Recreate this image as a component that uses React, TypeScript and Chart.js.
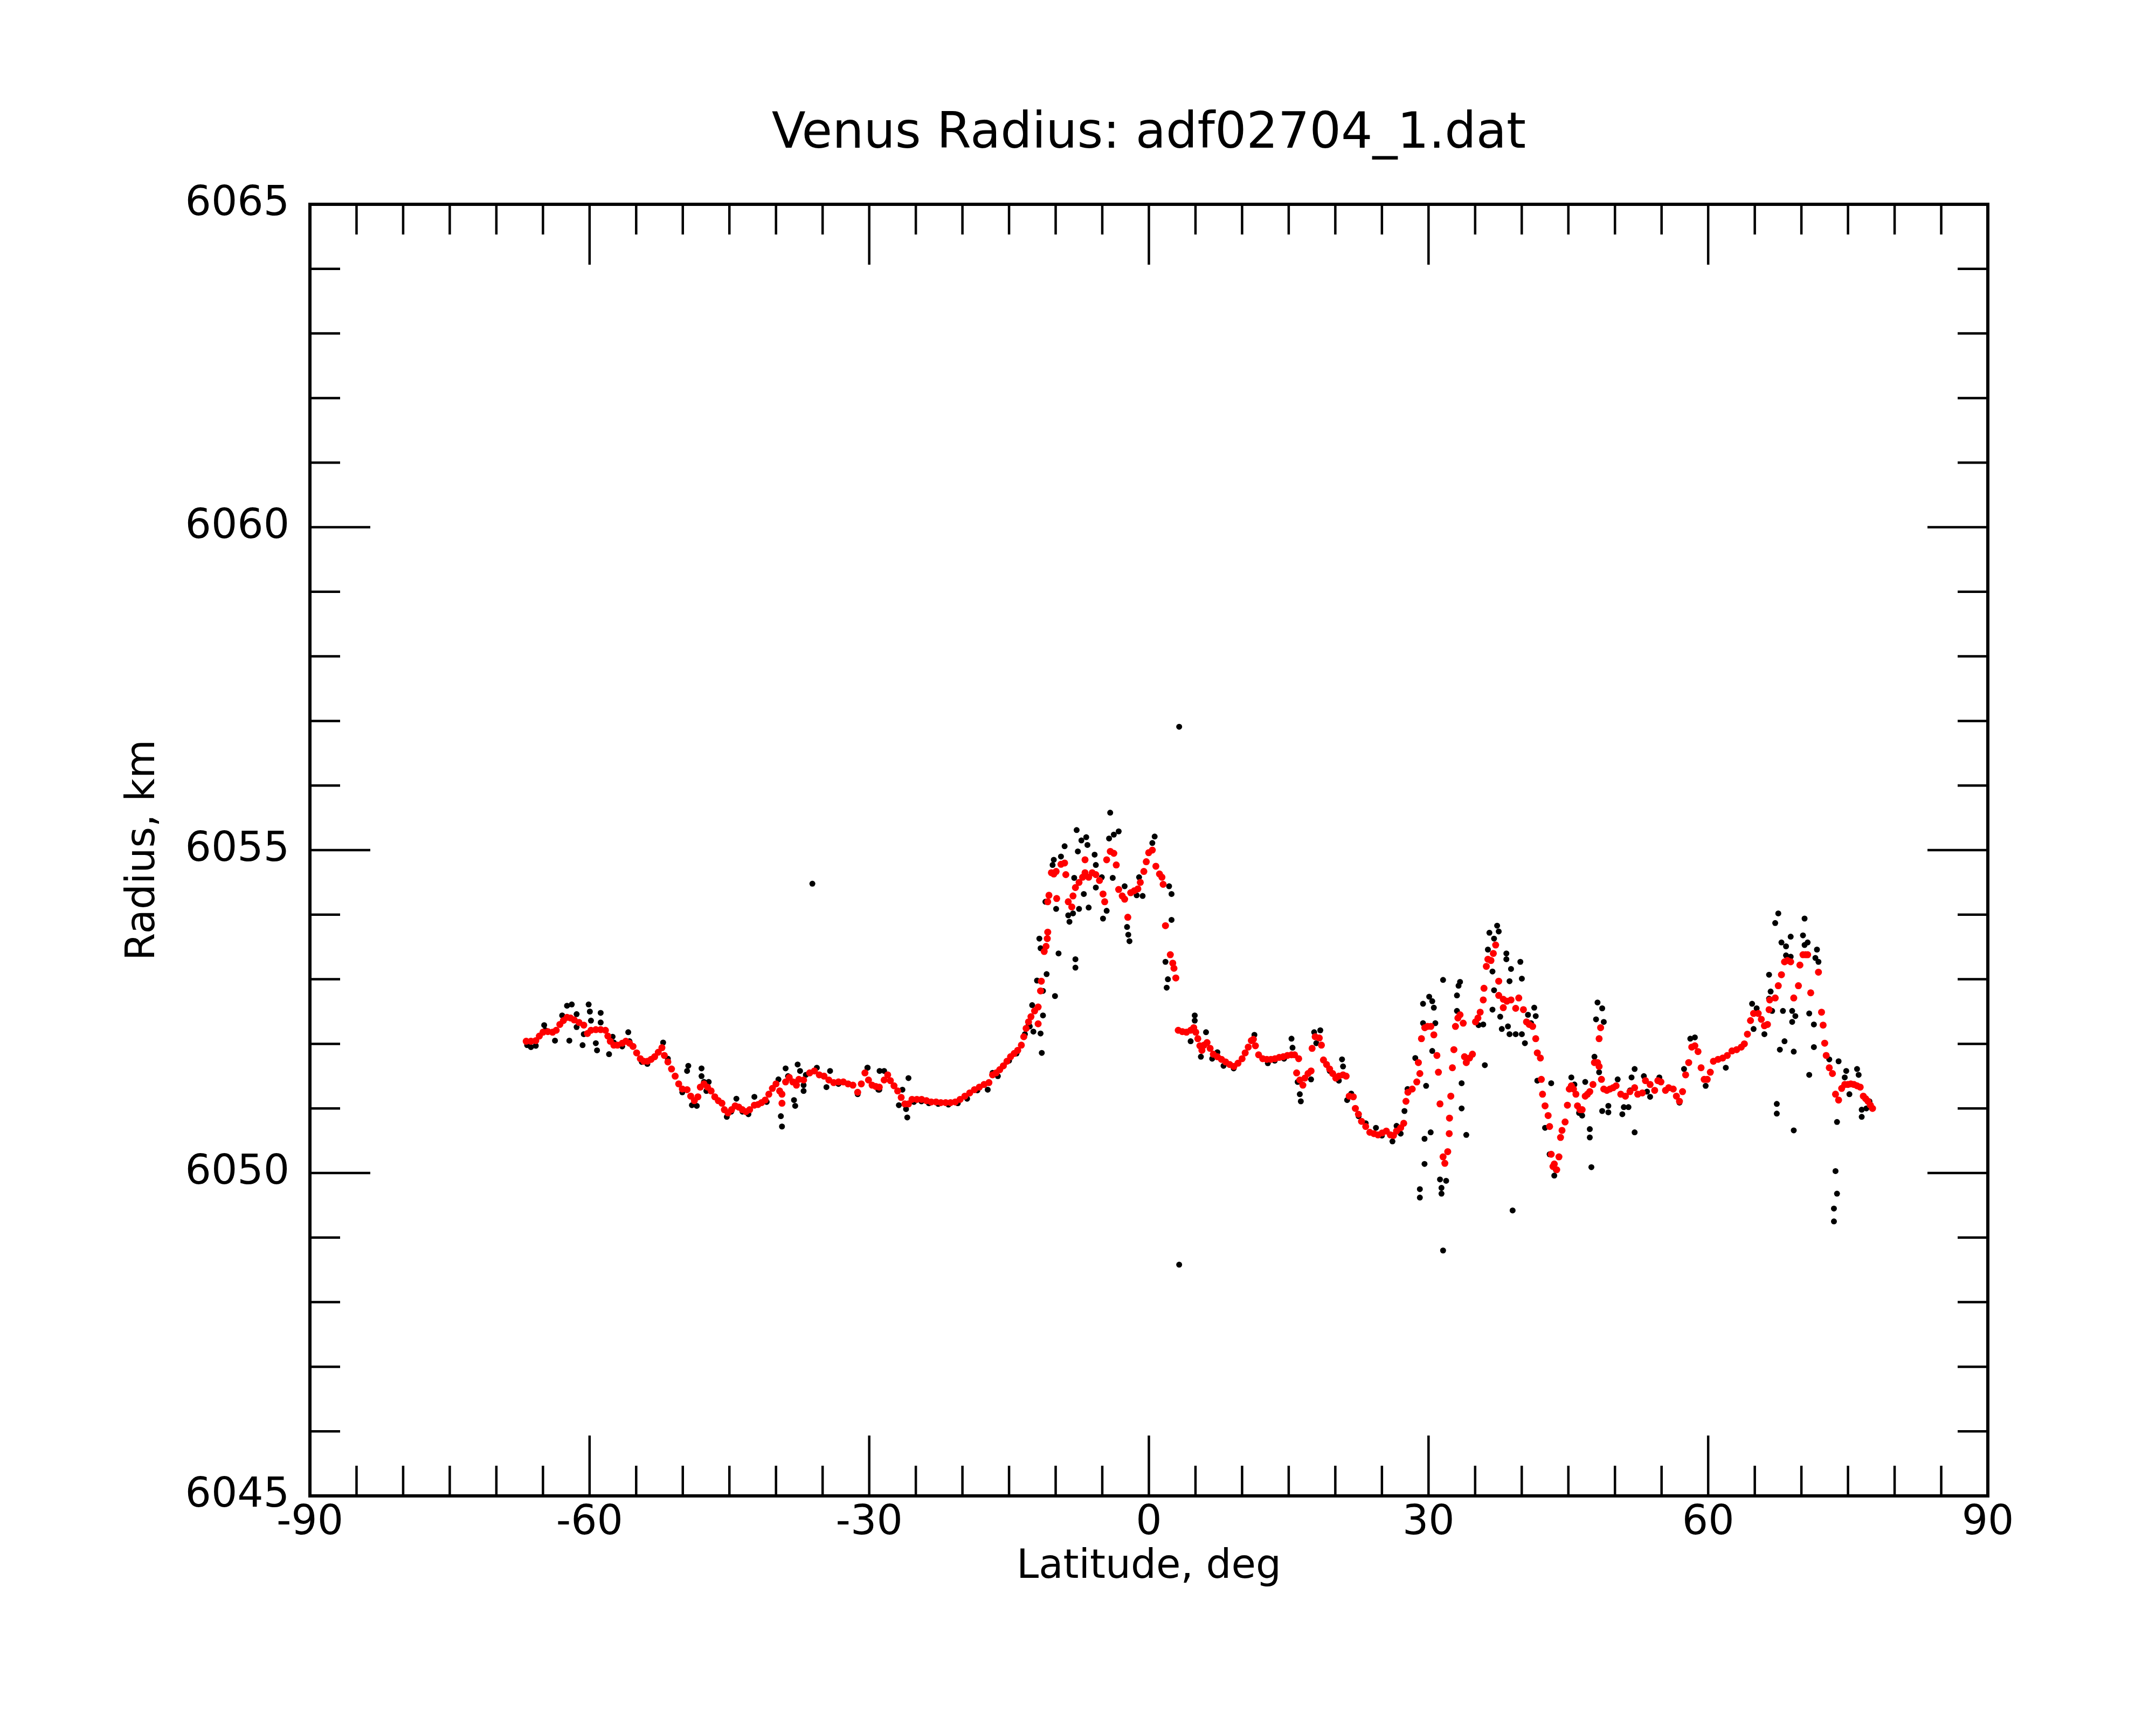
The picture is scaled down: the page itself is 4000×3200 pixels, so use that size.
import { useEffect, useRef } from 'react';
import { Chart, registerables, type ChartConfiguration, type Plugin } from 'chart.js';

Chart.register(...registerables);

const FONT = 'DejaVu Sans';

const xTicks = [-90, -60, -30, 0, 30, 60, 90];
const yTicks = [6045, 6050, 6055, 6060, 6065];
const xMinorStep = 5;
const yMinorStep = 1;

// smoothed radius (red), [latitude, radius km]
const smoothed: [number, number][] = [
  [-66.8, 6052.04], [-66.29, 6052.04], [-65.77, 6052.05], [-65.39, 6052.12], [-65.0, 6052.18],
  [-64.48, 6052.19], [-63.97, 6052.18], [-63.58, 6052.21], [-63.19, 6052.3], [-62.81, 6052.36],
  [-62.42, 6052.41], [-62.04, 6052.4], [-61.65, 6052.37], [-61.13, 6052.33], [-60.62, 6052.29],
  [-60.23, 6052.16], [-59.85, 6052.21], [-59.33, 6052.22], [-58.81, 6052.22], [-58.3, 6052.21],
  [-58.04, 6052.12], [-57.78, 6052.04], [-57.4, 6051.98], [-57.01, 6051.98], [-56.49, 6052.01],
  [-56.11, 6052.04], [-55.72, 6052.01], [-55.34, 6051.96], [-54.95, 6051.86], [-54.56, 6051.77],
  [-54.18, 6051.73], [-53.79, 6051.73], [-53.4, 6051.76], [-53.02, 6051.8], [-52.63, 6051.87],
  [-52.24, 6051.94], [-51.98, 6051.82], [-51.6, 6051.72], [-51.21, 6051.61], [-50.82, 6051.5],
  [-50.44, 6051.38], [-50.05, 6051.3], [-49.54, 6051.29], [-49.15, 6051.19], [-48.76, 6051.12],
  [-48.38, 6051.18], [-48.12, 6051.33], [-47.73, 6051.38], [-47.35, 6051.33], [-46.96, 6051.27],
  [-46.57, 6051.18], [-46.19, 6051.12], [-45.8, 6051.08], [-45.54, 6050.98], [-45.15, 6050.93],
  [-44.77, 6050.98], [-44.38, 6051.04], [-43.99, 6051.02], [-43.61, 6050.98], [-43.22, 6050.95],
  [-42.83, 6050.98], [-42.32, 6051.05], [-41.93, 6051.06], [-41.55, 6051.09], [-41.16, 6051.13],
  [-40.77, 6051.22], [-40.39, 6051.31], [-40.0, 6051.38], [-39.61, 6051.27], [-39.36, 6051.22],
  [-39.36, 6051.08], [-38.97, 6051.41], [-38.58, 6051.48], [-38.2, 6051.41], [-37.81, 6051.36],
  [-37.55, 6051.45], [-37.04, 6051.44], [-36.39, 6051.55], [-35.88, 6051.58], [-35.36, 6051.52],
  [-34.85, 6051.5], [-34.33, 6051.44], [-33.81, 6051.4], [-33.3, 6051.41], [-32.78, 6051.41],
  [-32.27, 6051.38], [-31.75, 6051.36], [-31.24, 6051.25], [-30.85, 6051.38], [-30.46, 6051.55],
  [-30.08, 6051.44], [-29.69, 6051.36], [-29.3, 6051.34], [-28.92, 6051.33], [-28.4, 6051.44],
  [-28.02, 6051.52], [-27.73, 6051.43], [-27.34, 6051.35], [-26.95, 6051.27], [-26.57, 6051.17],
  [-26.18, 6051.07], [-25.79, 6051.07], [-25.41, 6051.14], [-24.89, 6051.14], [-24.38, 6051.14],
  [-23.86, 6051.12], [-23.35, 6051.1], [-22.83, 6051.1], [-22.32, 6051.09], [-21.8, 6051.09],
  [-21.28, 6051.09], [-20.77, 6051.1], [-20.25, 6051.14], [-19.74, 6051.19], [-19.22, 6051.24],
  [-18.71, 6051.29], [-18.19, 6051.33], [-17.68, 6051.37], [-17.16, 6051.4], [-16.77, 6051.52],
  [-16.39, 6051.55], [-16.0, 6051.6], [-15.61, 6051.66], [-15.23, 6051.73], [-14.84, 6051.8],
  [-14.45, 6051.85], [-14.07, 6051.9], [-13.68, 6051.98], [-13.42, 6052.11], [-13.17, 6052.24],
  [-12.91, 6052.34], [-12.65, 6052.42], [-12.26, 6052.51], [-11.88, 6052.57], [-11.88, 6052.31],
  [-11.62, 6052.82], [-11.54, 6052.97], [-11.23, 6053.43], [-11.03, 6053.51], [-10.9, 6053.63],
  [-10.85, 6053.73], [-10.85, 6054.2], [-10.72, 6054.3], [-10.46, 6054.65], [-10.2, 6054.63],
  [-9.95, 6054.67], [-9.89, 6054.25], [-9.43, 6054.78], [-9.04, 6054.8], [-8.91, 6054.62],
  [-8.65, 6054.2], [-8.27, 6054.12], [-8.14, 6054.29], [-7.88, 6054.42], [-7.49, 6054.5],
  [-7.11, 6054.58], [-6.85, 6054.85], [-6.85, 6054.65], [-6.46, 6054.58], [-6.08, 6054.65],
  [-5.69, 6054.62], [-5.3, 6054.53], [-4.92, 6054.32], [-4.74, 6054.2], [-4.53, 6054.85],
  [-4.14, 6054.98], [-3.76, 6054.95], [-3.5, 6054.77], [-3.24, 6054.39], [-2.86, 6054.29],
  [-2.6, 6054.24], [-2.26, 6053.96], [-1.95, 6054.34], [-1.57, 6054.37], [-1.18, 6054.4],
  [-0.92, 6054.5], [-0.54, 6054.67], [-0.28, 6054.82], [-0.02, 6054.96], [0.37, 6055.0],
  [0.75, 6054.75], [1.14, 6054.63], [1.4, 6054.58], [1.53, 6054.47], [1.78, 6053.83],
  [2.3, 6053.38], [2.56, 6053.25], [2.69, 6053.17], [2.89, 6053.02], [3.15, 6052.21],
  [3.59, 6052.19], [4.03, 6052.18], [4.48, 6052.21], [4.81, 6052.25], [5.03, 6052.18],
  [5.25, 6052.08], [5.47, 6051.97], [5.69, 6051.9], [5.91, 6051.98], [6.24, 6052.02],
  [6.57, 6051.93], [6.91, 6051.84], [7.35, 6051.8], [7.79, 6051.76], [8.23, 6051.72],
  [8.67, 6051.68], [9.12, 6051.65], [9.56, 6051.7], [10.0, 6051.77], [10.33, 6051.86],
  [10.66, 6051.95], [10.99, 6052.05], [11.21, 6052.07], [11.43, 6051.97], [11.77, 6051.83],
  [12.21, 6051.77], [12.65, 6051.76], [13.09, 6051.76], [13.53, 6051.77], [13.98, 6051.79],
  [14.42, 6051.8], [14.86, 6051.82], [15.3, 6051.83], [15.63, 6051.83], [15.85, 6051.55],
  [16.07, 6051.77], [16.19, 6051.44], [16.52, 6051.36], [16.74, 6051.47], [17.07, 6051.54],
  [17.4, 6051.58], [17.51, 6051.93], [17.84, 6052.11], [18.28, 6052.09], [18.51, 6051.98],
  [18.73, 6051.75], [19.06, 6051.68], [19.39, 6051.61], [19.72, 6051.54], [20.05, 6051.47],
  [20.38, 6051.5], [20.83, 6051.52], [21.16, 6051.5], [21.49, 6051.19], [21.93, 6051.18],
  [22.15, 6051.0], [22.48, 6050.91], [22.81, 6050.8], [23.26, 6050.72], [23.7, 6050.63],
  [24.14, 6050.61], [24.58, 6050.59], [25.02, 6050.62], [25.47, 6050.65], [25.91, 6050.59],
  [26.24, 6050.58], [26.57, 6050.65], [27.01, 6050.7], [27.34, 6050.77], [27.58, 6051.11],
  [27.79, 6051.25], [28.25, 6051.3], [28.74, 6051.41], [28.91, 6051.71], [29.07, 6051.54],
  [29.24, 6052.08], [29.6, 6052.25], [29.9, 6052.27], [30.25, 6052.27], [30.57, 6052.14],
  [30.9, 6051.82], [31.06, 6051.56], [31.23, 6051.07], [31.56, 6050.25], [31.75, 6050.15],
  [32.06, 6050.33], [32.22, 6050.61], [32.25, 6050.85], [32.39, 6051.19], [32.56, 6051.63],
  [32.72, 6051.91], [32.89, 6052.27], [33.15, 6052.4], [33.38, 6052.45], [33.72, 6052.32],
  [33.86, 6051.8], [34.05, 6051.71], [34.4, 6051.78], [34.71, 6051.84], [35.04, 6052.34],
  [35.3, 6052.4], [35.54, 6052.49], [35.87, 6052.68], [35.95, 6052.86], [36.2, 6053.2],
  [36.37, 6053.31], [36.7, 6053.29], [36.95, 6053.4], [37.2, 6053.53], [37.53, 6052.97],
  [37.53, 6052.75], [38.02, 6052.56], [38.02, 6052.69], [38.4, 6052.66], [38.85, 6052.68],
  [39.35, 6052.55], [39.68, 6052.71], [40.18, 6052.53], [40.51, 6052.34], [40.8, 6052.3],
  [41.17, 6052.27], [41.5, 6052.08], [41.67, 6051.86], [42.0, 6051.78], [42.1, 6051.45],
  [42.23, 6051.22], [42.5, 6051.04], [42.83, 6050.89], [42.99, 6050.72], [43.16, 6050.29],
  [43.35, 6050.1], [43.49, 6050.14], [43.75, 6050.05], [43.99, 6050.25], [44.16, 6050.55],
  [44.32, 6050.66], [44.65, 6050.79], [44.9, 6051.05], [45.1, 6051.3], [45.32, 6051.35],
  [45.55, 6051.3], [45.81, 6051.22], [45.98, 6051.04], [46.25, 6050.98], [46.48, 6050.98],
  [46.81, 6051.19], [47.05, 6051.22], [47.3, 6051.26], [47.64, 6051.37], [47.8, 6051.71],
  [48.13, 6051.71], [48.3, 6052.08], [48.46, 6052.25], [48.3, 6051.65], [48.55, 6051.45],
  [48.8, 6051.3], [49.13, 6051.28], [49.46, 6051.3], [49.8, 6051.32], [50.12, 6051.35],
  [50.62, 6051.22], [51.12, 6051.19], [51.61, 6051.26], [52.11, 6051.32], [52.44, 6051.22],
  [52.94, 6051.24], [53.27, 6051.43], [53.77, 6051.37], [54.26, 6051.28], [54.6, 6051.43],
  [54.93, 6051.41], [55.42, 6051.28], [55.76, 6051.32], [56.25, 6051.3], [56.59, 6051.19],
  [56.92, 6051.11], [57.25, 6051.26], [57.58, 6051.52], [57.91, 6051.71], [58.24, 6051.95],
  [58.57, 6051.97], [58.91, 6051.88], [59.24, 6051.63], [59.57, 6051.45], [59.9, 6051.45],
  [60.23, 6051.56], [60.56, 6051.73], [61.06, 6051.76], [61.56, 6051.78], [62.05, 6051.82],
  [62.55, 6051.89], [63.05, 6051.91], [63.55, 6051.95], [63.88, 6052.0], [64.21, 6052.15],
  [64.54, 6052.36], [64.87, 6052.47], [65.37, 6052.47], [65.7, 6052.38], [66.03, 6052.28],
  [66.36, 6052.3], [66.53, 6052.53], [66.6, 6052.68], [67.19, 6052.71], [67.52, 6052.9],
  [67.86, 6053.07], [68.19, 6053.27], [68.5, 6053.29], [68.85, 6053.27], [69.18, 6052.71],
  [69.68, 6052.9], [69.84, 6053.22], [70.17, 6053.38], [70.45, 6053.38], [70.67, 6053.38],
  [71.0, 6052.79], [71.83, 6053.11], [72.16, 6052.49], [72.33, 6052.29], [72.5, 6052.01],
  [72.66, 6051.82], [72.99, 6051.63], [73.33, 6051.54], [73.66, 6051.22], [73.99, 6051.13],
  [74.32, 6051.31], [74.65, 6051.37], [74.98, 6051.37], [75.3, 6051.38], [75.64, 6051.37],
  [75.97, 6051.35], [76.31, 6051.33], [76.64, 6051.19], [76.9, 6051.15], [77.14, 6051.11],
  [77.4, 6051.05], [77.63, 6051.0],
];

// raw radius (black), [latitude, radius km]
const raw: [number, number][] = [
  [-66.7, 6051.98], [-66.29, 6051.95], [-65.77, 6051.97], [-64.87, 6052.29], [-64.74, 6052.21],
  [-63.71, 6052.05], [-62.94, 6052.44], [-62.42, 6052.59], [-61.91, 6052.61], [-62.17, 6052.05],
  [-61.39, 6052.46], [-61.39, 6052.26], [-60.62, 6052.15], [-60.75, 6051.98], [-60.1, 6052.61],
  [-59.97, 6052.5], [-59.85, 6052.36], [-59.33, 6052.01], [-59.2, 6051.9], [-58.81, 6052.48],
  [-58.81, 6052.33], [-57.91, 6051.84], [-57.53, 6052.11], [-57.4, 6052.02], [-56.5, 6051.96],
  [-55.85, 6052.18], [-55.72, 6052.04], [-54.4, 6051.72], [-53.8, 6051.69], [-52.11, 6052.02],
  [-51.6, 6051.77], [-49.41, 6051.66], [-49.54, 6051.58], [-47.99, 6051.62], [-47.99, 6051.5],
  [-47.73, 6051.41], [-47.22, 6051.41], [-50.05, 6051.25], [-49.02, 6051.05], [-48.5, 6051.04],
  [-47.47, 6051.27], [-45.28, 6050.87], [-44.8, 6050.95], [-44.25, 6051.15], [-43.6, 6050.95],
  [-42.96, 6050.91], [-42.32, 6051.18], [-41.0, 6051.1], [-39.74, 6051.45], [-39.48, 6050.88],
  [-39.36, 6050.72], [-38.97, 6051.62], [-38.71, 6051.5], [-38.07, 6051.41], [-38.07, 6051.13],
  [-37.94, 6051.04], [-37.68, 6051.68], [-37.42, 6051.58], [-37.04, 6051.36], [-37.04, 6051.27],
  [-36.8, 6051.52], [-36.1, 6054.48], [-35.62, 6051.63], [-34.59, 6051.33], [-34.2, 6051.58],
  [-33.3, 6051.38], [-32.78, 6051.41], [-31.24, 6051.22], [-30.2, 6051.63], [-30.17, 6051.63],
  [-29.02, 6051.29], [-28.92, 6051.29], [-28.89, 6051.58], [-28.4, 6051.58], [-26.82, 6051.05],
  [-26.44, 6051.29], [-26.05, 6050.99], [-25.92, 6050.86], [-25.79, 6051.47], [-25.2, 6051.1],
  [-24.4, 6051.11], [-23.6, 6051.08], [-22.6, 6051.07], [-21.5, 6051.06], [-20.5, 6051.08],
  [-19.5, 6051.15], [-18.4, 6051.28], [-17.29, 6051.29], [-16.77, 6051.55], [-16.2, 6051.5],
  [-15.0, 6051.74], [-14.2, 6051.85], [-13.3, 6052.15], [-12.9, 6052.3], [-12.78, 6052.27],
  [-12.52, 6052.6], [-12.39, 6052.19], [-12.0, 6052.98], [-11.75, 6053.63], [-11.62, 6053.48],
  [-11.62, 6052.16], [-11.49, 6051.86], [-11.36, 6052.44], [-11.36, 6052.82], [-11.1, 6054.2],
  [-10.97, 6053.08], [-10.33, 6054.77], [-10.2, 6054.85], [-10.07, 6052.74], [-9.95, 6054.09],
  [-9.69, 6053.4], [-9.43, 6054.9], [-9.04, 6055.06], [-8.65, 6053.99], [-8.52, 6053.89],
  [-8.14, 6054.02], [-8.01, 6054.57], [-7.88, 6053.31], [-7.88, 6053.18], [-7.75, 6055.31],
  [-7.62, 6054.98], [-7.49, 6054.09], [-7.24, 6055.15], [-6.98, 6054.32], [-6.72, 6055.2],
  [-6.59, 6055.08], [-6.46, 6054.11], [-5.82, 6054.93], [-5.69, 6054.77], [-5.69, 6054.42],
  [-5.05, 6054.58], [-4.92, 6053.94], [-4.53, 6054.06], [-4.27, 6055.18], [-4.15, 6055.58],
  [-3.88, 6054.57], [-3.76, 6055.24], [-3.24, 6055.29], [-2.6, 6054.44], [-2.34, 6053.81],
  [-2.21, 6053.69], [-2.08, 6053.59], [-1.31, 6054.3], [-1.05, 6054.58], [-0.67, 6054.29],
  [0.37, 6055.11], [0.62, 6055.21], [1.78, 6053.27], [1.91, 6052.87], [2.04, 6053.0],
  [2.17, 6054.44], [2.43, 6054.32], [2.43, 6053.92], [3.25, 6056.91], [3.25, 6048.58],
  [4.48, 6052.04], [4.92, 6052.44], [4.92, 6052.36], [5.58, 6051.8], [6.13, 6052.18],
  [6.79, 6051.77], [7.35, 6051.87], [8.01, 6051.66], [9.1, 6051.62], [11.32, 6052.14],
  [12.76, 6051.7], [13.5, 6051.74], [14.5, 6051.77], [15.3, 6052.08], [15.41, 6051.94],
  [15.96, 6051.41], [16.19, 6051.22], [16.3, 6051.11], [17.4, 6051.45], [17.73, 6052.18],
  [17.96, 6052.01], [18.39, 6052.21], [19.4, 6051.58], [20.38, 6051.43], [20.72, 6051.76],
  [20.83, 6051.65], [21.27, 6051.13], [21.71, 6051.23], [22.5, 6050.88], [23.26, 6050.77],
  [24.36, 6050.7], [25.0, 6050.58], [26.13, 6050.49], [26.57, 6050.73], [27.01, 6050.61],
  [27.42, 6050.96], [27.75, 6051.3], [28.58, 6051.78], [29.07, 6049.75], [29.07, 6049.62],
  [29.41, 6052.32], [29.41, 6052.62], [29.57, 6050.53], [29.57, 6050.14], [29.74, 6051.35],
  [30.07, 6052.73], [30.23, 6050.63], [30.4, 6052.66], [30.57, 6052.56], [30.73, 6052.32],
  [30.4, 6051.89], [31.23, 6049.9], [31.39, 6049.77], [31.39, 6049.68], [31.56, 6048.8],
  [31.89, 6049.88], [31.56, 6052.99], [33.05, 6052.51], [33.22, 6052.9], [33.38, 6052.96],
  [33.05, 6052.75], [33.55, 6051.39], [33.55, 6051.0], [34.05, 6050.59], [35.37, 6052.29],
  [35.87, 6052.3], [36.04, 6051.67], [36.37, 6053.46], [36.53, 6053.72], [37.03, 6053.63],
  [37.36, 6053.83], [37.53, 6053.74], [36.86, 6053.12], [37.03, 6052.83], [36.86, 6052.53],
  [37.69, 6052.42], [37.86, 6052.23], [38.35, 6053.4], [38.35, 6053.31], [38.85, 6053.16],
  [38.69, 6052.97], [38.52, 6052.27], [38.69, 6052.15], [39.35, 6052.15], [40.01, 6053.01],
  [39.85, 6053.27], [40.01, 6052.15], [40.34, 6052.01], [40.67, 6052.45], [41.0, 6052.32],
  [41.34, 6052.56], [41.5, 6052.43], [41.67, 6051.43], [39.02, 6049.42], [42.5, 6050.7],
  [42.99, 6050.29], [43.16, 6051.39], [43.49, 6049.96], [43.66, 6050.05], [45.32, 6051.48],
  [45.65, 6051.37], [46.15, 6050.93], [46.48, 6050.89], [46.81, 6051.41], [47.3, 6050.68],
  [47.3, 6050.55], [47.47, 6050.09], [47.8, 6051.8], [47.97, 6052.38], [48.13, 6052.64],
  [48.63, 6052.55], [48.8, 6052.34], [48.3, 6051.56], [48.63, 6050.96], [49.29, 6051.04],
  [49.29, 6050.94], [50.29, 6051.45], [50.79, 6050.91], [50.95, 6051.02], [51.45, 6051.02],
  [51.62, 6051.28], [52.11, 6051.61], [52.11, 6050.63], [51.78, 6051.48], [53.1, 6051.5],
  [53.44, 6051.26], [53.77, 6051.18], [54.76, 6051.48], [56.92, 6051.09], [57.41, 6051.61],
  [58.08, 6052.08], [58.57, 6052.1], [59.73, 6051.35], [61.89, 6051.63], [64.71, 6052.62],
  [65.2, 6052.55], [64.87, 6052.23], [66.03, 6052.15], [66.53, 6053.07], [66.7, 6052.81],
  [66.53, 6052.7], [66.86, 6052.51], [67.19, 6053.87], [67.52, 6054.02], [67.86, 6053.57],
  [68.35, 6053.51], [68.85, 6053.66], [68.35, 6053.37], [68.85, 6053.35], [68.02, 6052.51],
  [68.19, 6052.04], [67.69, 6051.91], [69.01, 6052.34], [69.35, 6052.43], [69.18, 6051.88],
  [69.01, 6052.51], [67.36, 6051.07], [67.36, 6050.92], [69.18, 6050.66], [70.17, 6053.68],
  [70.34, 6053.94], [70.34, 6053.53], [70.67, 6053.57], [71.5, 6053.33], [71.67, 6053.46],
  [71.83, 6053.27], [71.34, 6052.3], [70.84, 6052.47], [71.34, 6051.95], [70.84, 6051.52],
  [72.99, 6051.76], [73.99, 6051.73], [74.65, 6051.48], [74.81, 6051.58], [75.97, 6051.61],
  [76.14, 6051.52], [75.15, 6051.22], [73.82, 6050.79], [73.66, 6050.03], [73.82, 6049.68],
  [73.49, 6049.45], [73.49, 6049.25], [76.47, 6050.98], [76.47, 6050.87], [76.97, 6051.0],
  [77.3, 6051.11],
];

const MAJOR_TICK = 112;
const MINOR_TICK = 56;

const framePlugin: Plugin<'scatter'> = {
  id: 'frame',
  afterDatasetsDraw(chart) {
    const { ctx, chartArea: a } = chart;
    const xs = chart.scales.x;
    const ys = chart.scales.y;
    ctx.save();
    ctx.strokeStyle = '#000';
    ctx.lineWidth = 6;
    ctx.strokeRect(a.left, a.top, a.right - a.left, a.bottom - a.top);
    ctx.lineWidth = 4.5;
    ctx.beginPath();
    for (let v = xTicks[0] + xMinorStep; v < xTicks[xTicks.length - 1]; v += xMinorStep) {
      const px = xs.getPixelForValue(v);
      const len = xTicks.includes(v) ? MAJOR_TICK : MINOR_TICK;
      ctx.moveTo(px, a.bottom);
      ctx.lineTo(px, a.bottom - len);
      ctx.moveTo(px, a.top);
      ctx.lineTo(px, a.top + len);
    }
    for (let v = yTicks[0] + yMinorStep; v < yTicks[yTicks.length - 1]; v += yMinorStep) {
      const py = ys.getPixelForValue(v);
      const len = yTicks.includes(v) ? MAJOR_TICK : MINOR_TICK;
      ctx.moveTo(a.left, py);
      ctx.lineTo(a.left + len, py);
      ctx.moveTo(a.right, py);
      ctx.lineTo(a.right - len, py);
    }
    ctx.stroke();
    ctx.restore();
  },
};

function App() {
  const canvasRef = useRef<HTMLCanvasElement | null>(null);

  useEffect(() => {
    if (!canvasRef.current) return;
    Chart.defaults.font.family = FONT;
    Chart.defaults.color = '#000';

    const config: ChartConfiguration<'scatter'> = {
      type: 'scatter',
      data: {
        datasets: [
          {
            label: 'smoothed',
            data: smoothed.map(([x, y]) => ({ x, y })),
            backgroundColor: '#ff0000',
            pointRadius: 6.5,
            pointBorderWidth: 0,
            pointHoverRadius: 6.5,
          },
          {
            label: 'raw',
            data: raw.map(([x, y]) => ({ x, y })),
            backgroundColor: '#000000',
            pointRadius: 5.5,
            pointBorderWidth: 0,
            pointHoverRadius: 5.5,
          },
        ],
      },
      options: {
        responsive: false,
        devicePixelRatio: 1,
        animation: false,
        events: [],
        layout: { padding: { left: 0, right: 312, top: 0, bottom: 0 } },
        scales: {
          x: {
            type: 'linear',
            min: xTicks[0],
            max: xTicks[xTicks.length - 1],
            afterBuildTicks: (scale) => {
              scale.ticks = xTicks.map((value) => ({ value }));
            },
            afterFit: (scale) => {
              scale.height = 425;
              scale.paddingLeft = 0;
              scale.paddingRight = 0;
            },
            ticks: {
              font: { size: 76 },
              padding: 6,
              maxRotation: 0,
              autoSkip: false,
              callback: (value) => String(value),
            },
            grid: { display: false, drawTicks: false },
            border: { display: false },
            title: {
              display: true,
              text: 'Latitude, deg',
              font: { size: 74 },
              padding: { top: 0, bottom: 248 },
            },
          },
          y: {
            type: 'linear',
            min: yTicks[0],
            max: yTicks[yTicks.length - 1],
            afterBuildTicks: (scale) => {
              scale.ticks = yTicks.map((value) => ({ value }));
            },
            afterFit: (scale) => {
              scale.width = 575;
              scale.paddingTop = 0;
              scale.paddingBottom = 0;
            },
            ticks: {
              font: { size: 76 },
              padding: 38,
              autoSkip: false,
              callback: (value) => String(value),
            },
            grid: { display: false, drawTicks: false },
            border: { display: false },
            title: {
              display: true,
              text: 'Radius, km',
              font: { size: 74 },
              padding: { top: 222, bottom: 0 },
            },
          },
        },
        plugins: {
          legend: { display: false },
          tooltip: { enabled: false },
          title: {
            display: true,
            text: 'Venus Radius: adf02704_1.dat',
            fullSize: false,
            color: '#000',
            font: { size: 92, weight: 'normal' },
            padding: { top: 195, bottom: 73.6 },
          },
        },
      },
      plugins: [framePlugin],
    };

    const chart = new Chart(canvasRef.current, config);

    return () => {
      chart.destroy();
    };
  }, []);

  return (
    <div style={{ position: 'absolute', left: 0, top: 0, width: 4000, height: 3200, background: '#fff' }}>
      <canvas ref={canvasRef} width={4000} height={3200} style={{ display: 'block', width: 4000, height: 3200 }} />
    </div>
  );
}

export default App;
